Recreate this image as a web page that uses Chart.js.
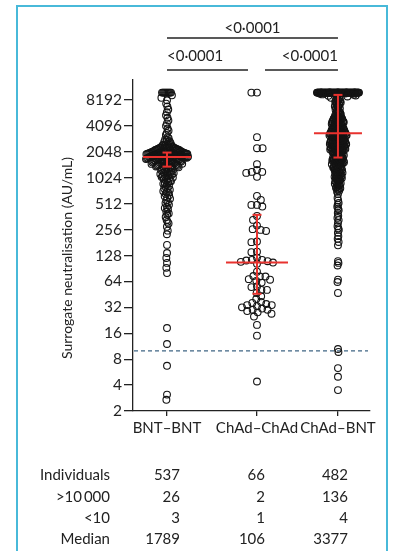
<!DOCTYPE html>
<html><head><meta charset="utf-8">
<script src="https://cdn.jsdelivr.net/npm/chart.js@4.4.1/dist/chart.umd.min.js"></script>
<style>
html,body{margin:0;padding:0;background:#fff;}
#wrap{position:relative;width:395px;height:551px;overflow:hidden;font-family:Lato,sans-serif;color:#222;}
#frame{position:absolute;left:16px;top:5px;width:368px;height:600px;border:2px solid #48b9d9;border-bottom:none;}
canvas{position:absolute;left:0;top:0;}
.row{position:absolute;left:0;width:395px;height:18px;font-size:15px;line-height:18px;}
.row span{position:absolute;top:0;white-space:nowrap;}
</style></head>
<body><div id="wrap"><div id="frame"></div><canvas id="c" width="395" height="551"></canvas><div id="table"></div></div>
<script>
// ---------- data ----------
const categories = ['BNT\u2013BNT', 'ChAd\u2013ChAd', 'ChAd\u2013BNT'];
const yTicks = [2, 4, 8, 16, 32, 64, 128, 256, 512, 1024, 2048, 4096, 8192];
const threshold = 10;
const pValues = ['<0\u00b70001', '<0\u00b70001', '<0\u00b70001'];
const yTitle = 'Surrogate neutralisation (AU/mL)';

const medians = [1789, 106, 3377];
const q1 = [1380, 46, 1760];
const q3 = [2010, 380, 9400];

const tableLabels = ['Individuals', '>10\u2009000', '<10', 'Median'];
const individuals = [537, 66, 482];
const above10000 = [26, 2, 136];
const below10 = [3, 1, 4];

const bntBnt = [
 10000,10000,10000,10000,10000,10000,10000,10000,10000,10000,
 9300,8700,8150,7450,6900,6350,5900,5450,5100,4750,4380,4090,3820,3600,3390,3210,3040,
 2950,2860,2790,2720,2670,2600,2560,2510,2480,2440,2420,2390,2370,2350,
 2336,2318,2309,2294,2281,2266,2259,2243,2228,2219,2207,2196,2181,2176,2163,2151,2144,2131,2122,2113,
 2102,2094,2083,2071,2064,2052,2047,2033,2026,2014,
 2008,2003,1998,1994,1987,1983,1979,1972,1968,1961,1957,1953,1946,1941,1937,1932,1926,1921,1917,1912,
 1906,1903,1897,1891,1888,1882,1877,1872,1868,1863,1858,1853,1847,1844,1838,1834,1829,1824,1819,1816,
 1811,1807,1803,1799,1796,1793,1791,1790,1789,1789,
 1785,1778,1770,1763,1757,1748,1741,1733,1726,1718,1711,1702,1695,1688,1680,1671,1664,1656,1649,1641,
 1632,1625,1617,1608,1601,1593,1584,1577,1568,1560,1552,1543,1535,1527,1518,1510,1501,1493,1485,1476,
 1468,1459,1450,1442,1433,1424,1415,1406,1396,1386,
 1372,1355,1340,1327,1311,1296,1283,1266,1251,1238,1222,1207,1195,1178,1162,1149,1133,1118,1102,1089,
 1071,1058,1042,1030,1017,1004,
 985,961,940,934,902,884,870,853,821,797,780,768,745,716,700,688,667,641,624,603,
 586,559,532,520,497,468,455,441,412,395,383,358,331,315,302,276,249,226,
 170,137,120,105,92,80,
 18.4,12,6.7,3.1,2.7
];

const chadChad = [
 10000,10000,3036,2260,2260,1473,1265,1199,1199,1167,1049,
 631,566,496,496,474,369,332,285,259,254,247,186,183,142,140,
 121,114,114,112,110,108,106,103,83,74,73,73,68,67,65,62,
 56,55,51,51,47,43,40,37,36,35,34,34,33,32,31,30,30,29,28,27,25,
 20,15,4.4
];

const chadBnt = [
 10000,10000,10000,10000,10000,10000,10000,10000,10000,10000,
 10000,10000,10000,10000,10000,10000,10000,10000,10000,10000,
 10000,10000,10000,10000,10000,10000,10000,10000,10000,10000,
 10000,10000,10000,10000,10000,10000,10000,10000,10000,10000,
 10000,10000,10000,10000,10000,10000,10000,10000,10000,10000,
 10000,10000,10000,10000,10000,10000,10000,10000,10000,10000,
 10000,10000,10000,10000,10000,10000,10000,10000,10000,10000,
 10000,10000,10000,10000,10000,10000,10000,10000,10000,10000,
 10000,10000,10000,10000,10000,10000,10000,10000,10000,10000,
 10000,10000,10000,10000,10000,10000,10000,10000,10000,10000,
 9760,9700,9520,9450,9260,9180,9010,8920,8780,8700,8560,8480,8310,8230,8090,8010,
 7910,7820,7660,7540,7410,7290,7170,7060,6930,6810,6680,6540,6430,6320,6200,6090,
 5980,5880,5790,5690,5610,5530,5460,5390,5330,5280,5220,5170,5120,5080,5030,4990,
 4960,4930,4890,4860,4820,4790,4760,4730,4690,4660,4620,4580,4550,4520,4480,4450,4420,4390,4350,4320,
 4290,4260,4220,4190,4160,4130,4100,4070,4040,4010,3980,3960,3930,3900,3870,3850,3820,3790,3760,3740,
 3710,3690,3670,3650,3620,3600,3580,3560,3540,3520,3500,3490,3470,3450,3430,3420,3410,3400,3390,3380,
 3370,3350,3330,3310,3295,3280,3260,3240,3220,3200,3185,3160,3140,3120,3105,3090,3070,3050,3030,3010,
 2995,2980,2960,2940,2925,2910,2890,2870,2855,2840,2825,2810,2795,2780,2765,2750,2735,2720,2705,2690,
 2675,2660,2645,2630,2620,2610,2595,2580,2565,2550,2535,2520,2510,2500,2485,2470,2458,2445,2432,2420,
 2408,2395,2382,2370,2358,2345,2332,2320,2310,2300,2288,2275,2262,2250,2238,2225,2212,2200,2185,2170,
 2155,2140,2125,2110,2095,2080,2065,2050,2035,2020,2005,1990,1975,1960,1945,1930,1910,1890,1870,1850,
 1830,1810,1790,1775,
 1755,1748,1740,1731,1720,1710,1700,1691,1682,1665,1656,1648,1630,1620,1610,1590,1581,1572,1555,1546,
 1538,1520,1502,1494,1485,1468,1450,1441,1432,1415,
 1395,1388,1380,1369,1358,1347,1335,1312,1301,1290,1270,1260,1250,1230,1220,1210,1190,1180,1170,1150,
 1140,1130,1110,1100,1090,1070,1060,1050,1030,1020,1010,990,980,970,952,935,925,915,895,885,
 875,855,845,835,815,795,785,775,758,740,722,705,
 662,598,560,523,500,472,450,430,400,370,350,330,305,280,265,254,235,215,200,184,168,
 110,105,98,67,63,47,10.5,9.7,6.3,5.0,3.5
];

const groups = [bntBnt, chadChad, chadBnt];

// ---------- layout / style ----------
const catPos = [1, 2, 2.9];
const swarm = [ {m: 6.7, a: 6.7, w: 21}, {m: 5.6, a: 1, w: 30}, {m: 6.7, a: 13, w: 21} ];
const medHalf = [24, 31, 24];
const FONT = 'Lato, sans-serif';
const INK = '#222';
const RED = '#e8322e';

// ---------- table (HTML text) ----------
(function buildTable() {
  const t = document.getElementById('table');
  const rows = [individuals, above10000, below10, medians];
  const tops = [465, 487, 508, 529];
  const rights = [110, 180, 265, 348];
  rows.forEach((vals, r) => {
    const d = document.createElement('div');
    d.className = 'row'; d.style.top = tops[r] + 'px';
    const cells = [tableLabels[r]].concat(vals.map(String));
    cells.forEach((txt, c) => {
      const s = document.createElement('span');
      s.textContent = txt; s.style.right = (395 - rights[c]) + 'px';
      d.appendChild(s);
    });
    t.appendChild(d);
  });
})();

// ---------- plugins ----------
const refLine = {
  id: 'refLine',
  beforeDatasetsDraw(ch) {
    const {ctx, chartArea, scales: {y}} = ch;
    const yy = y.getPixelForValue(threshold);
    ctx.save();
    ctx.strokeStyle = '#3f6584'; ctx.lineWidth = 1.2; ctx.setLineDash([4, 3]);
    ctx.beginPath(); ctx.moveTo(chartArea.left + 1, yy); ctx.lineTo(chartArea.right - 2, yy); ctx.stroke();
    ctx.restore();
  }
};
const errBars = {
  id: 'errBars',
  afterDatasetsDraw(ch) {
    const {ctx, scales: {x, y}} = ch;
    ctx.save();
    ctx.strokeStyle = RED; ctx.lineWidth = 2;
    const ln = (a, b, c, d) => { ctx.beginPath(); ctx.moveTo(a, b); ctx.lineTo(c, d); ctx.stroke(); };
    catPos.forEach((p, i) => {
      const cx = x.getPixelForValue(p);
      const ym = y.getPixelForValue(medians[i]);
      const y1 = y.getPixelForValue(q1[i]);
      const y3 = y.getPixelForValue(q3[i]);
      ln(cx, y1, cx, y3);
      ln(cx - 4.5, y1, cx + 4.5, y1);
      ln(cx - 4.5, y3, cx + 4.5, y3);
      ln(cx - medHalf[i], ym, cx + medHalf[i], ym);
    });
    ctx.restore();
  }
};
const annot = {
  id: 'annot',
  afterDraw(ch) {
    const {ctx, chartArea, scales: {x}} = ch;
    const xs = catPos.map(p => x.getPixelForValue(p));
    const top = chartArea.top;
    ctx.save();
    ctx.strokeStyle = INK; ctx.fillStyle = INK; ctx.lineWidth = 1.4;
    ctx.font = '15px ' + FONT; ctx.textBaseline = 'middle';
    const ln = (a, b, c) => { ctx.beginPath(); ctx.moveTo(a, b); ctx.lineTo(c, b); ctx.stroke(); };
    ln(xs[0], top - 42, xs[2]);
    ctx.textAlign = 'center'; ctx.fillText(pValues[0], (xs[0] + xs[2]) / 2, top - 52);
    ln(xs[0], top - 10, xs[1] - 9);
    ln(xs[1] + 8, top - 10, xs[2]);
    ctx.textAlign = 'left'; ctx.fillText(pValues[1], xs[0], top - 24);
    ctx.textAlign = 'right'; ctx.fillText(pValues[2], xs[2], top - 24);
    ctx.translate(67, 258); ctx.rotate(-Math.PI / 2);
    ctx.font = '14px ' + FONT; ctx.textAlign = 'center';
    ctx.fillText(yTitle, 0, 0);
    ctx.restore();
  }
};

// ---------- chart ----------
const chart = new Chart(document.getElementById('c'), {
  type: 'scatter',
  data: {
    datasets: groups.map((g, i) => ({
      label: categories[i],
      data: g.map(v => ({x: catPos[i], y: v})),
      pointStyle: 'circle', pointRadius: 3.4, pointBorderWidth: 1.1,
      borderColor: '#141414', backgroundColor: 'rgba(0,0,0,0)',
      pointHoverRadius: 3.4
    }))
  },
  options: {
    responsive: false, animation: false, events: [],
    layout: {padding: {left: 0, top: 80, right: 25, bottom: 0}},
    plugins: {legend: {display: false}, tooltip: {enabled: false}},
    scales: {
      x: {
        type: 'linear', min: 0.622, max: 3.256,
        afterBuildTicks: s => { s.ticks = catPos.map(v => ({value: v})); },
        afterFit: s => { s.height = 140; },
        ticks: {callback: (v, i) => categories[i], font: {family: FONT, size: 15}, color: INK, padding: 3, maxRotation: 0, autoSkip: false},
        grid: {display: true, drawOnChartArea: false, drawTicks: true, tickLength: 5, color: INK, lineWidth: 1.3},
        border: {display: true, color: INK, width: 1.3}
      },
      y: {
        type: 'logarithmic', min: 2, max: 14000, bounds: 'data',
        afterBuildTicks: s => { s.ticks = yTicks.map(v => ({value: v})); },
        afterFit: s => { s.width = 133; },
        ticks: {callback: v => String(v), font: {family: FONT, size: 15.5}, color: INK, padding: 2, autoSkip: false},
        grid: {display: true, drawOnChartArea: false, drawTicks: true, tickLength: 9, color: INK, lineWidth: 1.3},
        border: {display: true, color: INK, width: 1.3}
      }
    }
  },
  plugins: [refLine, errBars, annot]
});

// ---------- beeswarm layout from the library's own scales ----------
(function layoutSwarm() {
  const xs = chart.scales.x, ys = chart.scales.y;
  const ppu = Math.abs(xs.getPixelForValue(1) - xs.getPixelForValue(0));
  groups.forEach((vals, gi) => {
    const p = swarm[gi];
    const pts = vals.map(v => ({v, y: ys.getPixelForValue(v), x: 0})).sort((a, b) => a.y - b.y);
    const placed = [];
    pts.forEach((pt, k) => {
      const near = placed.filter(q => Math.abs(q.y - pt.y) < p.m);
      const cons = near.map(q => {
        const dy = q.y - pt.y;
        const r = Math.sqrt(p.m * p.m - dy * dy) / p.a;
        return [q.x - r, q.x + r];
      });
      const cands = [0];
      cons.forEach(c => cands.push(c[0], c[1]));
      cands.sort((a, b) => (Math.abs(a) - Math.abs(b)) || (k % 2 ? a - b : b - a));
      let best = null;
      for (const c of cands) {
        if (Math.abs(c) > p.w) continue;
        if (cons.every(iv => c <= iv[0] + 1e-6 || c >= iv[1] - 1e-6)) { best = c; break; }
      }
      if (best === null) {
        let bs = -1;
        for (let s = -p.w; s <= p.w + 1e-9; s += 0.25) {
          let md = Infinity;
          near.forEach(q => { const d = Math.hypot((s - q.x) * p.a, q.y - pt.y); if (d < md) md = d; });
          if (md > bs + 1e-9) { bs = md; best = s; }
        }
      }
      pt.x = best;
      placed.push(pt);
    });
    chart.data.datasets[gi].data = pts.map(pt => ({x: catPos[gi] + pt.x / ppu, y: pt.v}));
  });
  chart.update('none');
})();
</script>
</body></html>
